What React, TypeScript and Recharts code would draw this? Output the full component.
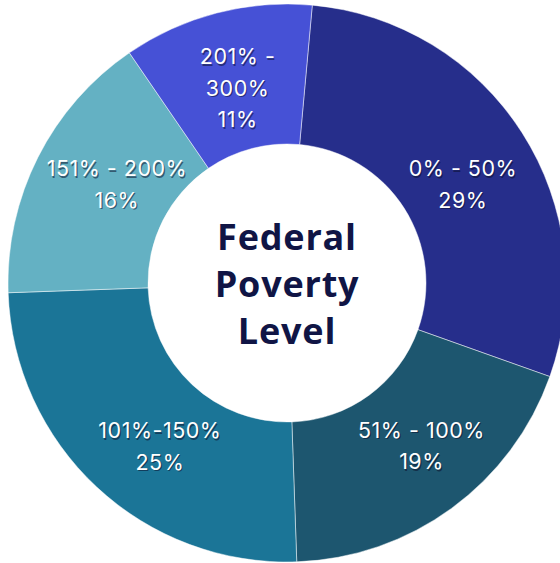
import React from "react";
import { PieChart, Pie, Cell, Label } from "recharts";

const categories = ["0% - 50%", "51% - 100%", "101%-150%", "151% - 200%", "201% - 300%"];
const shares = [29, 19, 25, 16, 11];
// the 201-300 slice breaks its range over two lines
const labelLines = [
  ["0% - 50%"],
  ["51% - 100%"],
  ["101%-150%"],
  ["151% - 200%"],
  ["201% -", "300%"],
];
const colors = ["#262E8B", "#1D566F", "#1B7597", "#64B1C3", "#4651D6"];
const centerLines = ["Federal", "Poverty", "Level"];

// small hand nudges so labels sit where the original placed them
const labelNudge = [
  [4, 11],
  [14, -2],
  [12, 14],
  [12, -7],
  [2, 2],
];

const data = categories.map((name, i) => ({ name, value: shares[i], lines: labelLines[i], nudge: labelNudge[i] }));

const CX = 287;
const CY = 283;
const RAD = Math.PI / 180;
const LABEL_FONT = "Inter, 'Open Sans', sans-serif";

// label centred on the middle of each ring slice, white with a soft dark shadow
const renderSliceLabel = (props: any) => {
  const { cx, cy, midAngle, innerRadius, outerRadius, payload, value } = props;
  const r = (innerRadius + outerRadius) / 2 - 5;
  const [nx, ny] = payload.nudge || [0, 0];
  const x = cx + r * Math.cos(-midAngle * RAD) + nx;
  const y = cy + r * Math.sin(-midAngle * RAD) + ny;
  const lines: string[] = [...payload.lines, `${value}%`];
  const lh = 31.5;
  const top = y - ((lines.length - 1) * lh) / 2;
  const common = {
    textAnchor: "middle" as const,
    dominantBaseline: "central" as const,
    fontFamily: LABEL_FONT,
    fontSize: 21.5,
    fontWeight: 400,
    letterSpacing: 0.5,
  };
  return (
    <g>
      {lines.map((t, i) => (
        <g key={i}>
          <text x={x + 1.2} y={top + i * lh + 1.5} fill="#0b0f2a" fillOpacity={0.55} {...common}>
            {t}
          </text>
          <text x={x} y={top + i * lh} fill="#ffffff" {...common}>
            {t}
          </text>
        </g>
      ))}
    </g>
  );
};

const CenterTitle = () => {
  const lh = 47;
  const top = CY - lh;
  return (
    <g>
      {centerLines.map((t, i) => (
        <text
          key={t}
          x={CX}
          y={top + i * lh}
          textAnchor="middle"
          dominantBaseline="central"
          fill="#101545"
          fontFamily="'Open Sans', Lato, sans-serif"
          fontSize={36}
          fontWeight={700}
          letterSpacing={0.8}
        >
          {t}
        </text>
      ))}
    </g>
  );
};

export default function App() {
  return (
    <div style={{ position: "absolute", left: 0, top: 0, width: 560, height: 563, background: "#fff" }}>
      <PieChart width={560} height={563} margin={{ top: 0, right: 0, bottom: 0, left: 0 }}>
        <Pie
          data={data}
          dataKey="value"
          nameKey="name"
          cx={CX}
          cy={CY}
          innerRadius={139}
          outerRadius={279}
          startAngle={84.8}
          endAngle={-275.2}
          stroke="#ffffff"
          strokeOpacity={0.6}
          strokeWidth={0.8}
          labelLine={false}
          label={renderSliceLabel}
          isAnimationActive={false}
        >
          {data.map((d, i) => (
            <Cell key={d.name} fill={colors[i]} />
          ))}
          <Label position="center" content={<CenterTitle />} />
        </Pie>
      </PieChart>
    </div>
  );
}
